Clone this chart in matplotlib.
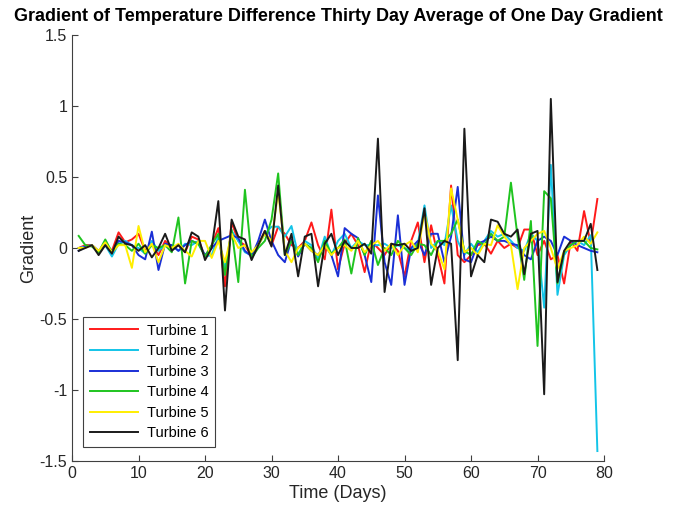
import numpy as np
import matplotlib
matplotlib.use("Agg")
import matplotlib.pyplot as plt

plt.rcParams['font.family'] = ['Liberation Sans', 'DejaVu Sans']

days = np.arange(1, 80)

turbine1 = [0.0, 0.02, 0.02, -0.03, 0.03, -0.02, 0.11, 0.04, 0.06, 0.1,
            -0.02, 0.03, -0.05, 0.05, 0.0, 0.02, -0.03, 0.08, 0.06, -0.06,
            0.02, 0.14, -0.27, 0.18, 0.05, 0.02, -0.06, 0.02, 0.12, 0.02,
            0.15, 0.1, 0.02, 0.0, 0.05, 0.18, 0.02, -0.08, 0.27, -0.15,
            0.03, 0.1, 0.02, -0.17, 0.05, 0.0, -0.05, 0.03, -0.02, -0.2,
            0.05, 0.18, -0.1, 0.16, -0.05, -0.25, 0.44, -0.05, -0.1, -0.05,
            0.02, 0.03, -0.04, 0.05, 0.0, 0.03, 0.0, 0.13, 0.13, -0.05,
            0.05, -0.08, -0.05, -0.25, 0.05, -0.02, 0.26, 0.03, 0.345]

turbine2 = [0.0, 0.01, 0.02, -0.03, 0.02, -0.06, 0.03, 0.05, 0.02, 0.0,
            -0.04, 0.05, -0.02, 0.02, 0.02, -0.02, 0.03, 0.02, 0.05, -0.06,
            -0.05, 0.08, -0.15, 0.12, 0.05, -0.03, -0.05, 0.02, 0.1, 0.15,
            0.15, 0.08, 0.155, -0.05, 0.05, 0.02, -0.08, 0.08, -0.05, 0.05,
            0.1, 0.0, 0.05, 0.02, 0.02, 0.02, 0.03, 0.0, 0.02, 0.0,
            -0.02, 0.03, 0.3, 0.0, 0.05, 0.02, 0.3, 0.05, -0.05, 0.03,
            -0.03, 0.05, 0.12, 0.08, 0.1, 0.05, 0.0, -0.02, 0.1, 0.05,
            -0.42, 0.585, -0.33, -0.05, 0.02, 0.05, 0.02, 0.09, -1.43]

turbine3 = [-0.02, 0.01, 0.02, -0.02, 0.02, -0.03, 0.05, 0.04, 0.02, -0.05,
            -0.08, 0.115, -0.155, 0.03, 0.02, -0.02, 0.02, 0.05, 0.03, -0.05,
            0.0, 0.05, 0.07, 0.09, 0.07, -0.02, -0.06, 0.05, 0.2, 0.05,
            -0.05, -0.1, 0.06, -0.06, 0.03, -0.02, -0.05, 0.02, -0.05, -0.2,
            0.14, 0.1, 0.07, -0.05, -0.24, 0.37, -0.1, -0.26, 0.23, -0.26,
            0.0, 0.05, -0.05, 0.1, 0.1, -0.1, 0.08, 0.43, -0.08, -0.1,
            0.03, 0.05, 0.08, 0.05, 0.05, 0.03, 0.02, -0.05, -0.08, 0.05,
            0.08, 0.05, -0.05, 0.08, 0.05, 0.02, 0.0, -0.02, -0.03]

turbine4 = [0.085, 0.02, 0.01, -0.03, 0.06, -0.03, 0.03, 0.02, -0.02, 0.03,
            -0.04, 0.02, 0.0, 0.02, -0.03, 0.215, -0.25, 0.05, 0.03, -0.06,
            0.02, 0.1, -0.19, 0.13, -0.24, 0.41, -0.07, 0.0, 0.05, 0.2,
            0.525, -0.05, 0.05, -0.05, 0.03, 0.0, -0.1, 0.05, -0.04, 0.0,
            0.06, -0.18, 0.07, -0.05, 0.05, -0.12, 0.0, -0.05, 0.05, 0.0,
            -0.05, 0.03, 0.02, -0.05, 0.05, 0.05, 0.1, 0.2, -0.02, -0.05,
            0.05, 0.02, 0.1, 0.05, 0.08, 0.46, 0.08, -0.225, 0.19, -0.69,
            0.4, 0.35, -0.25, -0.03, 0.02, 0.05, 0.05, 0.0, -0.01]

turbine5 = [0.0, 0.0, 0.02, -0.02, 0.04, -0.03, 0.02, 0.02, -0.14, 0.155,
            -0.03, 0.03, -0.1, 0.02, 0.0, 0.03, -0.02, -0.06, 0.05, 0.05,
            -0.07, 0.05, -0.1, 0.1, 0.0, 0.02, -0.03, 0.02, 0.1, 0.05,
            0.4, -0.02, -0.1, 0.0, 0.03, -0.02, -0.05, 0.02, -0.05, 0.0,
            0.02, -0.02, 0.05, -0.03, 0.02, 0.05, -0.02, 0.03, -0.05, 0.02,
            0.05, -0.03, 0.25, 0.03, -0.02, -0.15, 0.42, 0.2, -0.03, 0.0,
            -0.05, 0.03, 0.02, 0.16, 0.08, 0.02, -0.29, 0.0, 0.05, 0.1,
            0.12, 0.0, -0.15, -0.02, 0.0, 0.02, 0.08, 0.03, 0.11]

turbine6 = [-0.02, 0.0, 0.02, -0.05, 0.02, -0.04, 0.08, 0.03, 0.02, -0.02,
            0.02, -0.066, 0.0, 0.1, -0.02, 0.02, -0.03, 0.11, 0.08, -0.085,
            0.0, 0.33, -0.44, 0.2, 0.08, 0.06, -0.085, 0.02, 0.12, 0.01,
            0.44, -0.05, 0.1, -0.2, 0.08, 0.1, -0.27, 0.03, 0.1, -0.05,
            0.05, 0.0, 0.0, 0.03, -0.04, 0.77, -0.31, 0.03, 0.02, 0.03,
            -0.02, 0.0, 0.28, -0.26, 0.0, 0.05, 0.03, -0.79, 0.84, -0.2,
            -0.05, -0.1, 0.2, 0.185, 0.1, 0.08, 0.13, -0.185, 0.1, 0.12,
            -1.03, 1.05, -0.24, -0.02, 0.05, 0.05, 0.05, 0.17, -0.155]

series = [turbine1, turbine2, turbine3, turbine4, turbine5, turbine6]
labels = ["Turbine 1", "Turbine 2", "Turbine 3", "Turbine 4", "Turbine 5", "Turbine 6"]
colors = ["#ff1a1a", "#13c4e8", "#1a2fd6", "#1fc41f", "#ffee00", "#1a1a1a"]

fig = plt.figure(figsize=(6.86, 5.16), dpi=100)
ax = fig.add_axes([0.105, 0.1066, 0.7755, 0.8256])

for vals, lab, col in zip(series, labels, colors):
    ax.plot(days, vals, color=col, linewidth=1.4, label=lab)

ax.set_xlim(0, 80)
ax.set_ylim(-1.5, 1.5)
ax.set_xticks(np.arange(0, 81, 10))
ax.set_yticks([-1.5, -1, -0.5, 0, 0.5, 1, 1.5])
ax.set_yticklabels(["-1.5", "-1", "-0.5", "0", "0.5", "1", "1.5"])

for s in ["top", "right"]:
    ax.spines[s].set_visible(False)
for s in ["left", "bottom"]:
    ax.spines[s].set_color("#404040")
    ax.spines[s].set_linewidth(0.8)
ax.tick_params(direction="in", length=4, colors="#404040", labelsize=11.5,
               labelcolor="#262626")

ax.set_xlabel("Time (Days)", fontsize=13, color="#262626", labelpad=3)
ax.set_ylabel("Gradient", fontsize=13, color="#262626", labelpad=2)
ax.set_title("Gradient of Temperature Difference Thirty Day Average of One Day Gradient",
             fontsize=13, fontweight="bold", pad=10)

leg = ax.legend(loc="lower left", bbox_to_anchor=(0.021, 0.033), borderaxespad=0,
                fontsize=10.5, fancybox=False, framealpha=1, handlelength=3.3,
                labelspacing=0.45, borderpad=0.45, handletextpad=0.6)
leg.get_frame().set_edgecolor("#404040")
leg.get_frame().set_linewidth(0.8)

fig.savefig("out.png", dpi=100)
